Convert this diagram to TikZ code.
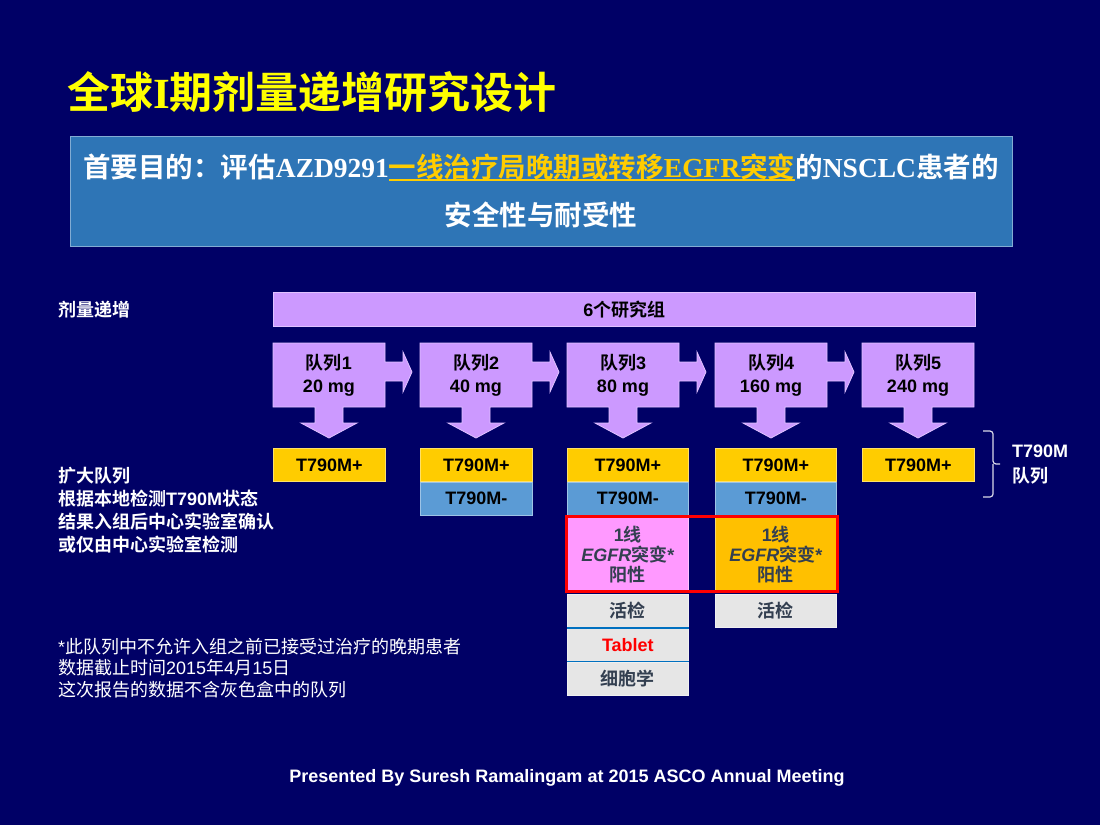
\documentclass[tikz,border=0pt]{standalone}
\usepackage{fontspec}
\usetikzlibrary{fit}
\setmainfont{Liberation Sans}
\newfontfamily\arialfont{Liberation Sans}
\newfontfamily\timesfont{Liberation Serif}
\newfontfamily\cjkfont{Noto Sans CJK SC}[BoldFont={Noto Sans CJK SC Bold}]
\def\latinfont{\arialfont}

% Chinese characters in \cjkfont, the rest in \latinfont
\newXeTeXintercharclass\cjkclass
\newcount\cjkcode
\cjkcode="4E00
\loop \XeTeXcharclass\cjkcode=\cjkclass \advance\cjkcode by 1 \ifnum\cjkcode<"A000 \repeat
\cjkcode="3000
\loop \XeTeXcharclass\cjkcode=\cjkclass \advance\cjkcode by 1 \ifnum\cjkcode<"3040 \repeat
\cjkcode="FF00
\loop \XeTeXcharclass\cjkcode=\cjkclass \advance\cjkcode by 1 \ifnum\cjkcode<"FFF0 \repeat
\XeTeXinterchartoks 0 \cjkclass = {\cjkfont}
\XeTeXinterchartoks 4095 \cjkclass = {\cjkfont}
\XeTeXinterchartoks \cjkclass 0 = {\latinfont}
\XeTeXinterchartoks 4095 0 = {\latinfont}
\XeTeXinterchartokenstate=1

\newcommand\aimline[1]{\setbox0\hbox{#1}\rlap{\rule[-3.5pt]{\wd0}{2pt}}\box0}

\definecolor{slide bg}{RGB}{0,0,102}
\definecolor{title yellow}{RGB}{255,255,0}
\definecolor{aim gold}{RGB}{255,204,0}
\definecolor{header blue}{RGB}{46,117,182}
\definecolor{dose lilac}{RGB}{204,153,255}
\definecolor{plus gold}{RGB}{255,204,0}
\definecolor{minus blue}{RGB}{91,155,213}
\definecolor{line pink}{RGB}{255,153,255}
\definecolor{line orange}{RGB}{255,192,0}
\definecolor{sample gray}{RGB}{230,230,230}
\definecolor{slate text}{RGB}{51,63,80}
\definecolor{divider blue}{RGB}{0,112,192}

\tikzset{
  cell/.style={rectangle, anchor=north west, inner sep=0pt, minimum height=33pt,
    fill=#1, draw=#1!60!white, line width=0.7pt, font=\bfseries\fontsize{18}{20}\selectfont},
  side text/.style={text=white, inner sep=0pt, align=left, font=\bfseries\fontsize{18}{23}\selectfont},
  note text/.style={text=white, inner sep=0pt, align=left, font=\fontsize{18}{21.5}\selectfont}
  }
\tikzstyle{cohort} = [fill=dose lilac, draw=dose lilac!60!white, line width=0.8pt]
\tikzstyle{dose text} = [inner sep=0pt, align=center, font=\bfseries\fontsize{18}{23}\selectfont]
\tikzstyle{aim box} = [fill=header blue, draw=header blue!60!white, line width=1pt, inner sep=0pt,
  minimum width=942pt, minimum height=110pt, text=white, align=center, font=\bfseries\fontsize{27.5}{48}\selectfont]
\tikzstyle{red frame} = [draw=red, line width=3pt, inner sep=0.5pt]
\tikzstyle{divider} = [draw=divider blue, line width=1.5pt]
\tikzstyle{brace line} = [draw=white!85!slide bg, line width=1.2pt, rounded corners=3pt]

\begin{document}
\begin{tikzpicture}[x=1pt,y=-1pt]

    \fill[slide bg] (0,0) rectangle (1100,825);

    % Title and aim
    \node[anchor=west, inner sep=0pt, text=title yellow, font=\bfseries\fontsize{43}{48}\selectfont] (title) at (67,92)
      {\def\latinfont{\timesfont}全球I期剂量递增研究设计};
    \node[aim box] (aim) at (541,191)
      {\def\latinfont{\timesfont}首要目的：评估AZD9291\textcolor{aim gold}{\aimline{一线治疗局晚期或转移EGFR突变}}的NSCLC患者的\\安全性与耐受性};

    % Dose escalation
    \node[side text, anchor=west] (escalation) at (58,310) {剂量递增};
    \node[cell=dose lilac, minimum width=702pt, minimum height=34pt] (groups) at (273,292) {6个研究组};

    \foreach \x/\n/\dose/\a in {273/1/20/1, 420/2/40/1, 567/3/80/1, 715/4/160/1, 862/5/240/0} {
      \path[cohort] (\x,343) -- (\x+112,343) -- (\x+112,362) -- (\x+112+18*\a,362) -- (\x+112+18*\a,362-10*\a)
        -- (\x+112+27*\a,372) -- (\x+112+18*\a,381+11*\a) -- (\x+112+18*\a,381) -- (\x+112,381)
        -- (\x+112,407) -- (\x+70,407) -- (\x+70,423) -- (\x+84,423) -- (\x+56,438) -- (\x+28,423)
        -- (\x+42,423) -- (\x+42,407) -- (\x,407) -- cycle;
      \node[dose text] (c\n) at (\x+56,375) {队列\n\\\dose\ mg};
    }

    % The expansion cohorts
    \foreach \x/\n/\w in {273/1/112, 420/2/112, 567/3/121, 715/4/121, 862/5/112}
      \node[cell=plus gold, minimum width=\w pt] (p\n) at (\x,448) {T790M+};

    \foreach \n/\w in {2/112, 3/121, 4/121}
      \node[cell=minus blue, minimum width=\w pt] (m\n) at (p\n.south west) {T790M-};

    \node[cell=line pink, minimum width=121pt, minimum height=73pt, text=slate text, align=center] (f3)
      at ([yshift=-2pt]m3.south west) {1线\\\textit{EGFR}突变*\\阳性};
    \node[cell=line orange, minimum width=121pt, minimum height=73pt, text=slate text, align=center] (f4)
      at ([yshift=-2pt]m4.south west) {1线\\\textit{EGFR}突变*\\阳性};
    \node[red frame, fit=(f3)(f4)] (first line) {};

    \node[cell=sample gray, minimum width=121pt, text=slate text] (s3a) at ([yshift=-3pt]f3.south west) {活检};
    \node[cell=sample gray, minimum width=121pt, text=red] (s3b) at (s3a.south west) {Tablet};
    \node[cell=sample gray, minimum width=121pt, text=slate text] (s3c) at (s3b.south west) {细胞学};
    \node[cell=sample gray, minimum width=121pt, text=slate text] (s4a) at ([yshift=-3pt]f4.south west) {活检};
    \path[divider] (s3a.south west) -- (s3a.south east);
    \path[divider] (s3b.south west) -- (s3b.south east);

    % Brace for the T790M cohorts
    \path[brace line] (983,431) -| (993,464) -- (1000,464);
    \path[brace line] (983,497) -| (993,464);
    \node[side text, font=\bfseries\fontsize{18}{25}\selectfont, anchor=west] (t790m) at (1012,465) {T790M\\队列};

    % Left notes
    \node[side text, anchor=west] (expansion) at (58,510)
      {扩大队列\\根据本地检测T790M状态\\结果入组后中心实验室确认\\或仅由中心实验室检测};
    \node[note text, anchor=west] (notes) at (58,668)
      {*此队列中不允许入组之前已接受过治疗的晚期患者\\数据截止时间2015年4月15日\\这次报告的数据不含灰色盒中的队列};

    \node[text=white, inner sep=0pt, font=\bfseries\fontsize{18}{22}\selectfont] (credit) at (567,778)
      {Presented By Suresh Ramalingam at 2015 ASCO Annual Meeting};
\end{tikzpicture}
\end{document}
